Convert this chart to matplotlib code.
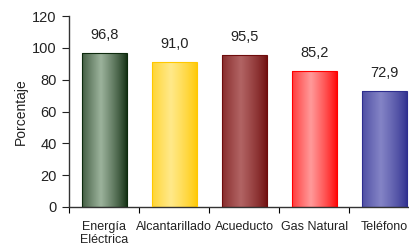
import matplotlib.pyplot as plt
import numpy as np
from matplotlib.colors import to_rgb

plt.rcParams['font.family'] = ['Liberation Sans', 'DejaVu Sans']

categorias = ['Energía\nEléctrica', 'Alcantarillado', 'Acueducto', 'Gas Natural', 'Teléfono']
valores = [96.8, 91.0, 95.5, 85.2, 72.9]
etiquetas = ['96,8', '91,0', '95,5', '85,2', '72,9']
# (borde oscuro, centro claro) de cada barra
colores = [('#0d2a0d', '#9cb39c'),
           ('#ffc800', '#ffe98a'),
           ('#6e0c0c', '#b26464'),
           ('#ff0000', '#ff9a9a'),
           ('#2e2e8e', '#8484c6')]

fig = plt.figure(figsize=(4.09, 2.47), dpi=100)
ax = fig.add_axes([0.169, 0.162, 0.856, 0.773])

x = np.arange(1, len(valores) + 1)
ancho = 0.64
barras = ax.bar(x, valores, width=ancho, color='none', edgecolor='none', zorder=2)

# degradado horizontal dentro de cada barra
t = np.linspace(0, 1, 64)
perfil = np.clip(1 - np.abs(t - 0.42) / 0.6, 0, 1) ** 0.8
for b, (c_borde, c_centro) in zip(barras, colores):
    c1 = np.array(to_rgb(c_borde))
    c2 = np.array(to_rgb(c_centro))
    img = c1[None, :] + (c2 - c1)[None, :] * perfil[:, None]
    img = img[None, :, :]
    x0, y0 = b.get_x(), b.get_y()
    w, h = b.get_width(), b.get_height()
    im = ax.imshow(img, extent=[x0, x0 + w, y0, y0 + h], aspect='auto',
                   interpolation='bilinear', zorder=2)
    im.set_clip_path(b)
    ax.add_patch(plt.Rectangle((x0, y0), w, h, fill=False,
                               edgecolor=c_borde, linewidth=0.8, zorder=3))

for xi, v, lab in zip(x, valores, etiquetas):
    ax.text(xi, v + 7, lab, ha='center', va='bottom', fontsize=10.5, color='#222222')

ax.set_xlim(0.5, 5.5)
ax.set_ylim(0, 120)
ax.set_yticks(range(0, 121, 20))
ax.set_xticks(x)
ax.set_xticklabels(categorias, fontsize=9, color='#222222', linespacing=1.1)
ax.set_xticks(np.arange(0.5, 5.6, 1), minor=True)
ax.tick_params(axis='x', which='major', length=0, pad=10)
ax.tick_params(axis='x', which='minor', length=4, width=0.8, direction='out')
ax.tick_params(axis='y', labelsize=10.5, length=5, width=0.8, pad=4, colors='#222222')
ax.set_ylabel('Porcentaje', fontsize=10, color='#222222', labelpad=3)

for s in ['top', 'right']:
    ax.spines[s].set_visible(False)
ax.spines['left'].set_linewidth(1.0)
ax.spines['bottom'].set_linewidth(1.0)
ax.spines['left'].set_color('#333333')
ax.spines['bottom'].set_color('#333333')

fig.savefig('out.png', dpi=100)
